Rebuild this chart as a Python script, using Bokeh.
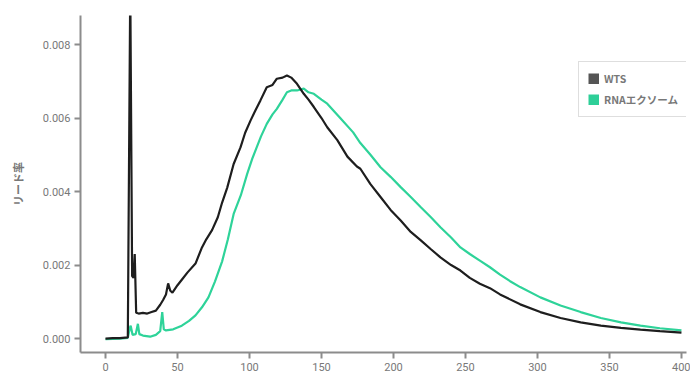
from bokeh.plotting import figure
from bokeh.models import Range1d, Legend, LegendItem, FixedTicker, CustomJSTickFormatter
from bokeh.embed import file_html
from bokeh.resources import INLINE

# WTS read-length distribution
wts_x = [0, 5, 10, 15.5, 17.2, 18.5, 19.5, 20.3, 21.3, 23, 26, 29, 32, 35, 38, 40, 42,
         43.5, 45, 46.5, 50, 53, 57, 62.5, 67, 70, 74, 78, 81, 84.5, 89, 93.75, 97,
         100.7, 104, 107.6, 112, 116, 119, 123, 126, 129, 133, 137.7, 141, 144.7, 150,
         154, 161, 168, 174.6, 177, 184, 191, 198, 205, 212, 219, 226, 232.6, 240,
         246.5, 253, 260, 267, 274, 288, 302, 316, 330, 344, 358, 371.5, 385, 400]
wts_y = [0.0, 0.00001, 0.00001, 0.00003, 0.0096, 0.0017, 0.00165, 0.0023, 0.0007,
         0.00068, 0.0007, 0.00068, 0.00072, 0.00076, 0.00092, 0.00105, 0.0012,
         0.0015, 0.0013, 0.00125, 0.00145, 0.0016, 0.0018, 0.00204, 0.00248, 0.0027,
         0.00295, 0.0033, 0.0037, 0.0041, 0.00475, 0.0052, 0.0056, 0.00593, 0.0062,
         0.00648, 0.00684, 0.0069, 0.00707, 0.0071, 0.00716, 0.0071, 0.00693,
         0.00666, 0.0065, 0.0063, 0.006, 0.00575, 0.0054, 0.00495, 0.00468, 0.00462,
         0.0042, 0.00385, 0.0035, 0.00321, 0.0029, 0.00267, 0.00243, 0.00221, 0.002,
         0.00185, 0.00165, 0.00149, 0.00137, 0.0012, 0.00093, 0.00072, 0.00056,
         0.00044, 0.00035, 0.00029, 0.00024, 0.0002, 0.00016]

# RNA exome read-length distribution
rna_x = [0, 5, 10, 15.5, 17.0, 17.5, 18.8, 21, 22.5, 23.5, 26, 31, 35, 38, 39.4, 40.5,
         42, 47, 53, 58, 62.5, 67, 71.5, 76, 81, 85, 89, 94, 98.4, 102, 105, 108, 112,
         116, 119, 123, 126, 129, 133, 137.7, 141, 144.7, 150, 154, 163, 172, 177, 184,
         191, 198, 205, 212, 219, 226, 232.6, 240, 246.5, 253, 260, 267, 274, 281, 288,
         302, 316, 330, 344, 358, 371.5, 385, 400]
rna_y = [-0.00002, -0.00001, 0.0, 0.00002, 0.0003, 0.00035, 0.0001, 0.00012, 0.0004,
         0.00012, 0.00008, 0.00005, 0.0001, 0.0002, 0.00072, 0.00025, 0.00022, 0.00025,
         0.00035, 0.00048, 0.00063, 0.00085, 0.00112, 0.00155, 0.0021, 0.0027, 0.00339,
         0.0039, 0.00448, 0.0049, 0.0052, 0.0055, 0.00584, 0.0061, 0.00625, 0.0065,
         0.0067, 0.00675, 0.00675, 0.0068, 0.0067, 0.00666, 0.0065, 0.00639, 0.006,
         0.00561, 0.00532, 0.005, 0.00466, 0.0044, 0.00412, 0.00385, 0.00357, 0.0033,
         0.00303, 0.00275, 0.00248, 0.0023, 0.00212, 0.00194, 0.00174, 0.00156, 0.0014,
         0.00112, 0.0009, 0.00072, 0.00056, 0.00044, 0.00035, 0.00028, 0.00022]

x_ticks = [0, 50, 100, 150, 200, 250, 300, 350, 400]
y_ticks = [0.0, 0.002, 0.004, 0.006, 0.008]
series_labels = ["WTS", "RNAエクソーム"]
legend_colors = ["#555555", "#2ecf98"]
line_colors = ["#1e1e1e", "#2ed399"]

AXIS = "#8c8c8c"
TEXT = "#787878"

p = figure(width=690, height=379, output_backend="svg", toolbar_location=None,
           x_range=Range1d(-17.36, 403.5), y_range=Range1d(-0.00038, 0.00879),
           min_border_left=80, min_border_top=15, min_border_right=4,
           min_border_bottom=27)
p.outline_line_color = None
p.xgrid.visible = False
p.ygrid.visible = False
p.background_fill_color = "white"
p.border_fill_color = "white"

r_rna = p.line(rna_x, rna_y, line_color=line_colors[1], line_width=2.2)
r_wts = p.line(wts_x, wts_y, line_color=line_colors[0], line_width=2.2)

# legend swatches: renderers with a single NaN point (nothing drawn in the frame),
# thick butt-capped lines render as squares in the legend
nan = float("nan")
sw_wts = p.line([nan], [nan], line_color=legend_colors[0], line_width=11, line_cap="butt")
sw_rna = p.line([nan], [nan], line_color=legend_colors[1], line_width=11, line_cap="butt")

for ax in (p.xaxis[0], p.yaxis[0]):
    ax.axis_line_color = AXIS
    ax.axis_line_width = 2
    ax.major_tick_line_color = AXIS
    ax.major_tick_line_width = 2
    ax.major_tick_out = 6
    ax.major_tick_in = 0
    ax.minor_tick_line_color = None
    ax.major_label_text_color = TEXT
    ax.major_label_text_font = "Roboto"
    ax.major_label_text_font_size = "11px"

p.xaxis.ticker = FixedTicker(ticks=x_ticks)
p.yaxis.ticker = FixedTicker(ticks=y_ticks)
p.yaxis.formatter = CustomJSTickFormatter(code="return tick.toFixed(3);")
p.xaxis.major_label_standoff = 4
p.yaxis.major_label_standoff = 4

p.yaxis.axis_label = "リード率"
p.yaxis.axis_label_text_font = "Noto Sans CJK JP"
p.yaxis.axis_label_text_font_style = "bold"
p.yaxis.axis_label_text_font_size = "11px"
p.yaxis.axis_label_text_color = TEXT
p.yaxis.axis_label_standoff = 14

legend = Legend(items=[LegendItem(label=series_labels[0], renderers=[sw_wts]),
                       LegendItem(label=series_labels[1], renderers=[sw_rna])],
                location=(498, 235))
legend.glyph_width = 11
legend.glyph_height = 11
legend.label_text_font = "Noto Sans CJK JP"
legend.label_text_font_style = "bold"
legend.label_text_font_size = "10.5px"
legend.label_text_color = TEXT
legend.label_standoff = 5
legend.label_height = 11
legend.spacing = 6
legend.padding = 9
legend.margin = 0
legend.border_line_color = "#bdbdbd"
legend.border_line_width = 1
legend.background_fill_alpha = 1
p.add_layout(legend)

open("out.html", "w").write(file_html(p, INLINE))
